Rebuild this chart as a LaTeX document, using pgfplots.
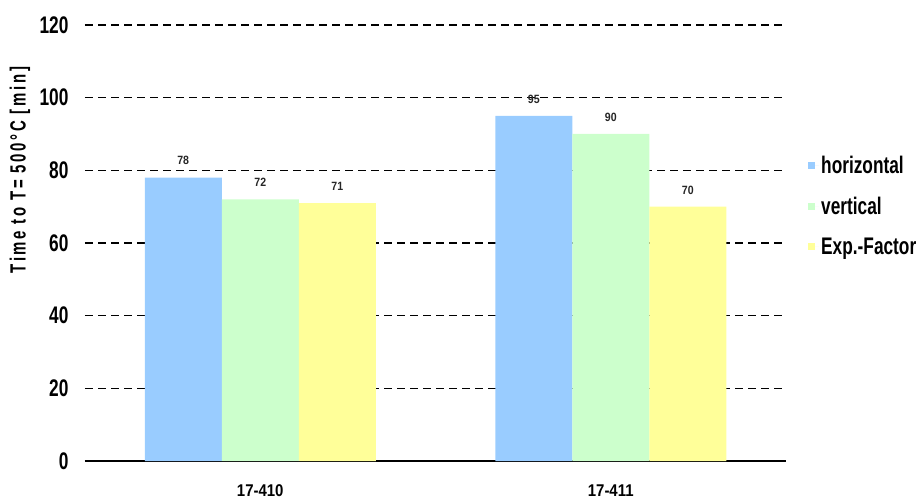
\documentclass[border=0pt]{standalone}
\usepackage{fontspec}
\setmainfont{Liberation Sans}[FakeStretch=0.72]
\newfontfamily\catfont{Liberation Sans}[FakeStretch=0.88]
\newfontfamily\labfont{Liberation Sans}[FakeStretch=0.68, LetterSpace=12]
\usepackage{pgfplots}
\pgfplotsset{compat=1.18}
\definecolor{cblue}{HTML}{99CCFF}
\definecolor{cgreen}{HTML}{CCFFCC}
\definecolor{cyellow}{HTML}{FFFF99}
\begin{document}
\begin{tikzpicture}
\useasboundingbox (-85pt,-42pt) rectangle (835pt,461pt);
\begin{axis}[
  at={(0pt,0pt)}, anchor=south west,
  scale only axis, width=701pt, height=436pt,
  ybar=0pt, bar width=77pt,
  xmin=-0.5, xmax=1.5, ymin=0, ymax=120,
  xtick={0,1}, xticklabels={17-410,17-411},
  major x tick style={draw=none},
  extra x ticks={-0.5,0.5,1.5}, extra x tick labels={},
  extra x tick style={major tick length=8pt, tick align=outside, tick style={draw=black, line width=1.5pt}},
  ytick={0,20,40,60,80,100,120},
  major y tick style={draw=none},
  axis lines*=left,
  x axis line style={line width=1.5pt},
  y axis line style={draw=none},
  ymajorgrids,
  major grid style={black, line width=1.3pt, dash pattern=on 8pt off 5pt},
  /pgf/number format/assume math mode=true,
  yticklabel style={font=\fontsize{24}{28}\selectfont\bfseries, xshift=-13pt},
  xticklabel style={font=\catfont\fontsize{17}{20}\selectfont\bfseries, yshift=-16pt},
  ylabel={Time to T= 500°C [min]},
  ylabel style={font=\labfont\fontsize{22}{26}\selectfont\bfseries, at={(rel axis cs:-0.0927,0.667)}, anchor=center},
  nodes near coords,
  every node near coord/.append style={font=\catfont\fontsize{12}{14}\selectfont\bfseries, text=black!85, yshift=9pt},
  legend style={draw=none, fill=none, at={(rel axis cs:1,0.705)}, anchor=north west, xshift=22pt,
    inner sep=0pt, row sep=18pt, font=\fontsize{24}{28}\selectfont\bfseries, cells={anchor=west}},
  legend image code/.code={\fill[#1] (0pt,-3.5pt) rectangle (7pt,3.5pt); \path (0pt,0pt) -- (11pt,0pt);},
]
\addplot[fill=cblue, draw=none] coordinates {(0,78) (1,95)};
\addplot[fill=cgreen, draw=none] coordinates {(0,72) (1,90)};
\addplot[fill=cyellow, draw=none] coordinates {(0,71) (1,70)};
\legend{horizontal,vertical,Exp.-Factor}
\end{axis}
\end{tikzpicture}
\end{document}
